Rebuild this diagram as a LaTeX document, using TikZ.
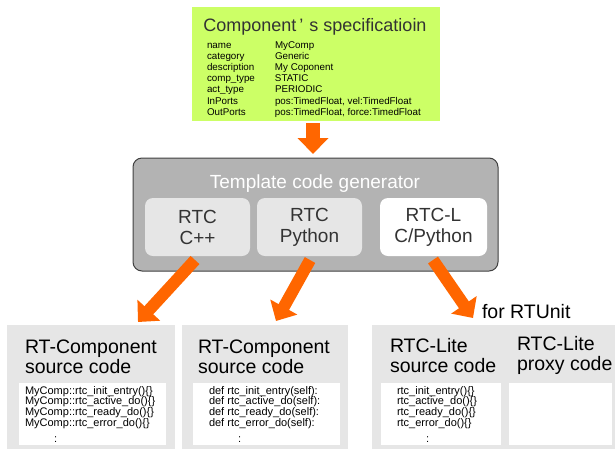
\documentclass[tikz,border=0pt]{standalone}
\usepackage{fontspec}
\setmainfont{Liberation Sans}
\usetikzlibrary{arrows.meta}
\definecolor{SpecGreen}{RGB}{204,255,102}
\definecolor{ArrowOrange}{RGB}{255,102,0}
\definecolor{GenGray}{RGB}{179,179,179}
\definecolor{BoxGray}{RGB}{230,230,230}
\definecolor{EdgeGray}{RGB}{64,64,64}
\definecolor{LabelGray}{RGB}{51,51,51}

\begin{document}
\begin{tikzpicture}[x=1pt,y=-1pt,>={Triangle[length=16pt,width=30pt]}]
			\useasboundingbox (0,0) rectangle (615,448);
			\clip (0,0) rectangle (615,448);
			\tikzstyle{every node}=[inner sep=0pt,outer sep=0pt]
			\tikzstyle{langbox}=[rounded corners=8pt,minimum height=58pt,align=center,text=LabelGray,font=\fontsize{19}{21}\selectfont]
			\tikzstyle{srcbox}=[anchor=north west,fill=BoxGray,minimum height=125pt]
			\tikzstyle{codebox}=[anchor=north west,fill=white,minimum height=62pt]
			\tikzstyle{titletext}=[anchor=base west,font=\fontsize{19.5}{20}\selectfont]
			\tikzstyle{codetext}=[anchor=base west,font=\fontsize{11}{9.6}\selectfont]
			\tikzstyle{orangearrow}=[->,draw=ArrowOrange,line width=12pt]
			
			%% Specification
			\draw (316,64) node [fill=SpecGreen,minimum width=248pt,minimum height=114pt] (spec) {};
			\draw (315,31) node [anchor=base,text=LabelGray,font=\fontsize{18}{20}\selectfont] (specTitle) {Component\hspace{3pt}’\hspace{6pt}s specificatioin};
			\draw (207,48) node [anchor=base west,font=\fontsize{9.8}{11.2}\selectfont] (specTable) {\begin{tabular}[t]{@{}p{68pt}@{}l@{}}
				name & MyComp\\
				category & Generic\\
				description & My Coponent\\
				comp\_type & STATIC\\
				act\_type & PERIODIC\\
				InPorts & pos:TimedFloat, vel:TimedFloat\\
				OutPorts & pos:TimedFloat, force:TimedFloat
			\end{tabular}};
			
			%% Generator
			\draw (315.5,214.5) node [draw=EdgeGray,line width=1pt,fill=GenGray,rounded corners=9pt,minimum width=365pt,minimum height=113pt] (gen) {};
			\draw (315,188) node [anchor=base,text=white,font=\fontsize{19}{21}\selectfont] (genTitle) {Template code generator};
			\draw (197.5,227) node [langbox,fill=BoxGray,minimum width=105pt] (cpp) {RTC\\C++};
			\draw (309.5,227) node [langbox,fill=BoxGray,minimum width=105pt] (py) {RTC\\Python};
			\draw (433.5,227) node [langbox,fill=white,minimum width=107pt] (lite) {RTC-L\\C/Python};
			
			%% Source code
			\draw (7,325) node [srcbox,minimum width=168pt] (rtcppBox) {};
			\draw (182,325) node [srcbox,minimum width=166pt] (rtpyBox) {};
			\draw (372,325) node [srcbox,minimum width=250pt] (liteBox) {};
			\draw (19,383) node [codebox,minimum width=147pt] (rtcppCodeBox) {};
			\draw (193,383) node [codebox,minimum width=147pt] (rtpyCodeBox) {};
			\draw (381,383) node [codebox,minimum width=120pt] (liteCodeBox) {};
			\draw (509,383) node [codebox,minimum width=103pt] (proxyCodeBox) {};
			
			\draw (25,353) node [titletext] (rtcppTitle) {\begin{tabular}[t]{@{}l@{}}RT-Component\\source code\end{tabular}};
			\draw (198,353) node [titletext] (rtpyTitle) {\begin{tabular}[t]{@{}l@{}}RT-Component\\source code\end{tabular}};
			\draw (390,352) node [titletext] (liteTitle) {\begin{tabular}[t]{@{}l@{}}RTC-Lite\\source code\end{tabular}};
			\draw (517,350) node [titletext] (proxyTitle) {\begin{tabular}[t]{@{}l@{}}RTC-Lite\\proxy code\end{tabular}};
			
			\draw (25,394) node [codetext] (rtcppCode) {\begin{tabular}[t]{@{}l@{}}
				MyComp::rtc\_init\_entry()\{\}\\
				MyComp::rtc\_active\_do()\{\}\\
				MyComp::rtc\_ready\_do()\{\}\\
				MyComp::rtc\_error\_do()\{\}\\[6pt]
				\hspace{29pt}:
			\end{tabular}};
			\draw (209,394) node [codetext] (rtpyCode) {\begin{tabular}[t]{@{}l@{}}
				def rtc\_init\_entry(self):\\
				def rtc\_active\_do(self):\\
				def rtc\_ready\_do(self):\\
				def rtc\_error\_do(self):\\[6pt]
				\hspace{29pt}:
			\end{tabular}};
			\draw (397,394) node [codetext] (liteCode) {\begin{tabular}[t]{@{}l@{}}
				rtc\_init\_entry()\{\}\\
				rtc\_active\_do()\{\}\\
				rtc\_ready\_do()\{\}\\
				rtc\_error\_do()\{\}\\[6pt]
				\hspace{29pt}:
			\end{tabular}};
			
			\draw (482,318) node [titletext] (rtunit) {for RTUnit};
			
			%% Arrows
			\coordinate (cppOut) at (195,260);
			\coordinate (cppIn) at (138,322);
			\coordinate (pyOut) at (310,260);
			\coordinate (pyIn) at (276,321);
			\coordinate (liteOut) at (433,260);
			\coordinate (liteIn) at (473,318);
			\draw [orangearrow,line width=14pt,shorten <=2pt,shorten >=4pt] ([xshift=-3pt]spec.south) -- ([xshift=-2.5pt]gen.north);
			\draw [orangearrow] (cppOut) -- (cppIn);
			\draw [orangearrow] (pyOut) -- (pyIn);
			\draw [orangearrow] (liteOut) -- (liteIn);
			
		\end{tikzpicture}
\end{document}
